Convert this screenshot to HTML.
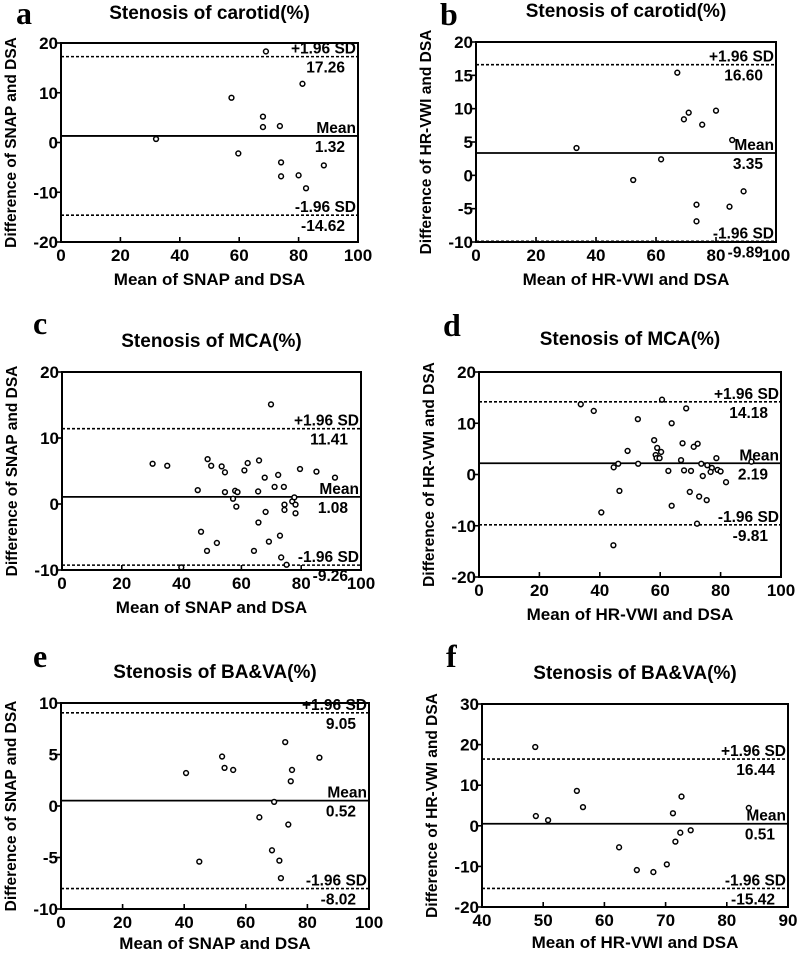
<!DOCTYPE html>
<html><head><meta charset="utf-8"><style>
html,body{margin:0;padding:0;background:#fff;}
svg{display:block;font-family:"Liberation Sans",Arial,sans-serif;}
</style></head><body>
<svg id="fig" width="797" height="953" viewBox="0 0 797 953"></svg>
<script>
// Panel a
const aX=[32.0,57.4,69.0,68.0,68.0,73.7,81.3,59.7,74.1,74.1,80.0,82.5,88.5];
const aY=[0.7,9.0,18.3,5.2,3.1,3.3,11.8,-2.2,-4.0,-6.8,-6.6,-9.2,-4.6];
const aLines=[17.26,1.32,-14.62];
// Panel b
const bX=[33.5,52.4,61.7,67.1,69.3,70.9,75.4,80.0,85.4,73.5,73.5,84.5,89.2];
const bY=[4.1,-0.7,2.4,15.4,8.4,9.4,7.6,9.7,5.3,-4.4,-6.9,-4.7,-2.4];
const bLines=[16.60,3.35,-9.89];
// Panel c
const cX=[30.3,35.2,48.7,49.9,53.4,54.5,45.4,54.5,57.9,58.7,57.2,58.3,61.0,62.1,65.9,65.6,67.8,71.1,72.3,74.2,69.9,79.6,85.1,91.3,68.1,65.7,46.5,51.8,48.5,64.2,69.2,72.9,73.3,75.1,39.9,74.4,74.4,77.0,77.7,78.1,78.1];
const cY=[6.1,5.8,6.8,5.8,5.7,4.8,2.1,1.8,2.0,1.8,0.8,-0.4,5.1,6.2,6.6,1.9,4.0,2.6,4.4,2.6,15.1,5.3,4.9,4.0,-1.2,-2.8,-4.2,-5.9,-7.1,-7.1,-5.7,-4.8,-8.1,-9.2,-9.6,-0.1,-0.9,0.4,1.0,-0.1,-1.4];
const cLines=[11.41,1.08,-9.26];
// Panel d
const dX=[33.7,38.0,60.6,68.6,52.6,63.8,58.0,67.4,72.4,71.1,49.2,59.0,60.3,58.5,58.8,59.8,66.9,78.6,90.2,46.1,44.6,52.7,73.6,75.6,77.1,79.0,80.0,76.7,62.7,67.9,70.2,74.1,81.8,46.5,69.8,72.9,75.4,63.8,40.5,72.2,44.5];
const dY=[13.7,12.4,14.6,12.9,10.8,10.0,6.7,6.1,6.0,5.4,4.6,5.2,4.4,3.8,3.2,3.2,2.8,3.2,2.5,2.1,1.4,2.1,2.1,1.8,1.3,0.9,0.6,0.5,0.7,0.8,0.7,-0.3,-1.5,-3.2,-3.4,-4.3,-5.0,-6.1,-7.4,-9.6,-13.8];
const dLines=[14.18,2.19,-9.81];
// Panel e
const eX=[40.6,52.3,53.1,55.9,44.9,72.8,83.9,75.0,74.6,69.2,64.4,73.8,68.5,70.9,71.4];
const eY=[3.2,4.8,3.7,3.5,-5.4,6.2,4.7,3.5,2.4,0.4,-1.1,-1.8,-4.3,-5.3,-7.0];
const eLines=[9.05,0.52,-8.02];
// Panel f
const fX=[48.7,48.8,50.8,55.5,56.5,62.4,65.3,68.0,70.2,71.2,72.6,71.6,72.4,74.1,83.6];
const fY=[19.4,2.4,1.4,8.6,4.6,-5.3,-10.9,-11.4,-9.5,3.1,7.2,-3.9,-1.7,-1.1,4.4];
const fLines=[16.44,0.51,-15.42];
const xTicksA=[0,20,40,60,80,100];
const xTicksF=[40,50,60,70,80,90];

const NS="http://www.w3.org/2000/svg";
const svg=document.getElementById('fig');
function mk(tag,attrs,parent,text){const e=document.createElementNS(NS,tag);for(const k in attrs)e.setAttribute(k,attrs[k]);if(text!==undefined)e.textContent=text;(parent||svg).appendChild(e);return e;}

function panel(o){
  const g=mk('g',{});
  
  
  const sx=v=>o.L+(v-o.x0)/(o.x1-o.x0)*(o.R-o.L);
  const sy=v=>o.B-(v-o.y0)/(o.y1-o.y0)*(o.B-o.T);
  const letter=mk('text',{x:o.lx,y:o.ly,'font-family':'"Liberation Serif",serif','font-weight':'bold','font-size':32},g,o.id);
  
  
  const title=mk('text',{x:(o.L+o.R)/2,y:o.ty,'text-anchor':'middle','font-weight':'bold','font-size':19},g,o.title);
  
  
  const box=mk('rect',{x:o.L,y:o.T,width:o.R-o.L,height:o.B-o.T,fill:'none',stroke:'#000','stroke-width':2},g);
  
  
  o.xt.forEach(v=>{
    const t=mk('line',{x1:sx(v),x2:sx(v),y1:o.B,y2:o.B-5,stroke:'#000','stroke-width':1.6},g);
    
    
    const l=mk('text',{x:sx(v),y:o.B+19,'text-anchor':'middle','font-weight':'bold','font-size':17},g,v);
    
    
  });
  o.yt.forEach(v=>{
    const t=mk('line',{x1:o.L,x2:o.L-5,y1:sy(v),y2:sy(v),stroke:'#000','stroke-width':1.6},g);
    
    
    const l=mk('text',{x:o.L-3,y:sy(v)+6,'text-anchor':'end','font-weight':'bold','font-size':17},g,v);
    
    
  });
  const names=['+1.96 SD','Mean','-1.96 SD'];
  o.lines.forEach((v,i)=>{
    const y=sy(v);
    const ln=mk('line',{x1:o.L,x2:o.R,y1:y,y2:y,stroke:'#000','stroke-width':i==1?1.8:1.6,'stroke-dasharray':i==1?'none':'3,2'},g);
    
    
    const n=mk('text',{x:o.R-2,y:y-3,'text-anchor':'end','font-weight':'bold','font-size':15.5},g,names[i]);
    
    
    const val=mk('text',{x:o.R-13,y:y+16,'text-anchor':'end','font-weight':'bold','font-size':15.5},g,v.toFixed(2));
    
    
  });
  o.xs.forEach((x,i)=>{
    const c=mk('circle',{cx:sx(x),cy:sy(o.ys[i]),r:2.4,fill:'#fff',stroke:'#000','stroke-width':1.5},g);
    
    
  });
  const xl=mk('text',{x:(o.L+o.R)/2,y:o.B+o.xly,'text-anchor':'middle','font-weight':'bold','font-size':17},g,o.xlab);
  
  
  const ylx=o.L-45, ylyc=(o.T+o.B)/2;
  const yl=mk('text',{x:ylx,y:ylyc,'text-anchor':'middle','font-weight':'bold','font-size':15.5,transform:`rotate(-90 ${ylx} ${ylyc})`},g,o.ylab);
  
  
}

panel({id:'a',L:61,R:358,T:43,B:242,x0:0,x1:100,y0:-20,y1:20,xt:xTicksA,yt:[20,10,0,-10,-20],xs:aX,ys:aY,lines:aLines,title:'Stenosis of carotid(%)',xlab:'Mean of SNAP and DSA',ylab:'Difference of SNAP and DSA',lx:16,ly:24,ty:19,xly:43});
panel({id:'b',L:476,R:776,T:42,B:242,x0:0,x1:100,y0:-10,y1:20,xt:xTicksA,yt:[20,15,10,5,0,-5,-10],xs:bX,ys:bY,lines:bLines,title:'Stenosis of carotid(%)',xlab:'Mean of HR-VWI and DSA',ylab:'Difference of HR-VWI and DSA',lx:440,ly:25,ty:17,xly:43});
panel({id:'c',L:62,R:361,T:372,B:570,x0:0,x1:100,y0:-10,y1:20,xt:xTicksA,yt:[20,10,0,-10],xs:cX,ys:cY,lines:cLines,title:'Stenosis of MCA(%)',xlab:'Mean of SNAP and DSA',ylab:'Difference of SNAP and DSA',lx:33,ly:334,ty:347,xly:43});
panel({id:'d',L:479,R:781,T:372,B:577,x0:0,x1:100,y0:-20,y1:20,xt:xTicksA,yt:[20,10,0,-10,-20],xs:dX,ys:dY,lines:dLines,title:'Stenosis of MCA(%)',xlab:'Mean of HR-VWI and DSA',ylab:'Difference of HR-VWI and DSA',lx:443,ly:336,ty:345,xly:43});
panel({id:'e',L:61,R:369,T:703,B:909,x0:0,x1:100,y0:-10,y1:10,xt:xTicksA,yt:[10,5,0,-5,-10],xs:eX,ys:eY,lines:eLines,title:'Stenosis of BA&VA(%)',xlab:'Mean of SNAP and DSA',ylab:'Difference of SNAP and DSA',lx:33,ly:667,ty:678,xly:40});
panel({id:'f',L:482,R:788,T:704,B:907,x0:40,x1:90,y0:-20,y1:30,xt:xTicksF,yt:[30,20,10,0,-10,-20],xs:fX,ys:fY,lines:fLines,title:'Stenosis of BA&VA(%)',xlab:'Mean of HR-VWI and DSA',ylab:'Difference of HR-VWI and DSA',lx:446,ly:667,ty:679,xly:41});
</script>
</body></html>
